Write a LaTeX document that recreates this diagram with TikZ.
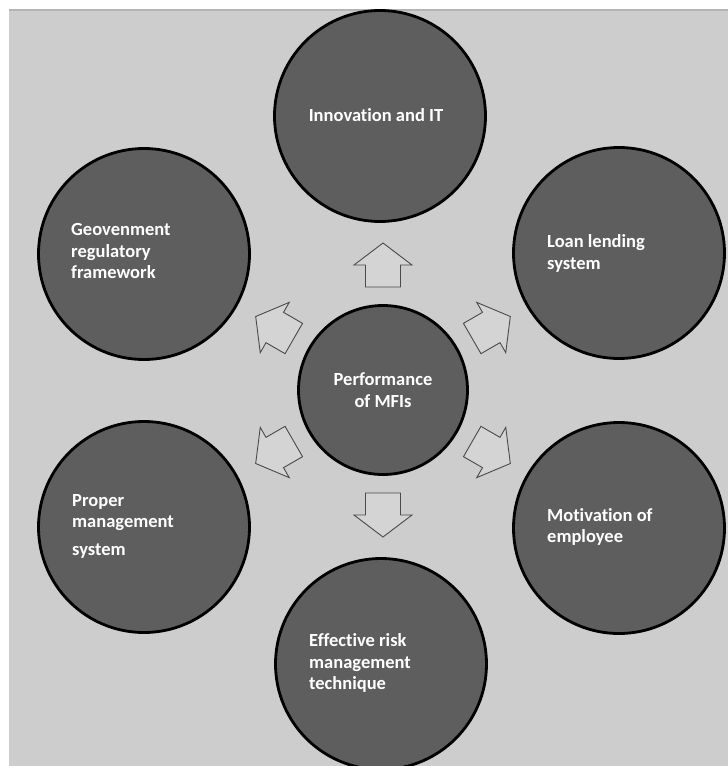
\documentclass[tikz,border=0pt]{standalone}
\usepackage{fontspec}
\setmainfont[Ligatures=NoCommon]{Carlito}
\usetikzlibrary{calc}
\definecolor{bggray}{HTML}{CDCDCD}
\definecolor{discgray}{HTML}{5E5E5E}
\definecolor{arrfill}{HTML}{D4D4D4}
\definecolor{arrline}{HTML}{4A4A4A}
\definecolor{edgegray}{HTML}{B4B4B4}
\begin{document}
\begin{tikzpicture}[x=1pt,y=1pt,
  disc/.style={circle, draw=black, line width=2.8pt, fill=discgray, minimum size=211pt, inner sep=0pt},
  hub/.style={circle, draw=black, line width=2.8pt, fill=discgray, minimum size=169pt, inner sep=0pt},
  lbl/.style={text=white, font=\bfseries\fontsize{18.5}{21.5}\selectfont, align=left, inner sep=0pt},
  clbl/.style={text=white, font=\bfseries\fontsize{18.5}{21.5}\selectfont, align=center, inner sep=0pt},
  barrow/.style={fill=arrfill, draw=arrline, line width=0.9pt, line join=miter}]
\useasboundingbox (0,0) rectangle (728,-766);
\fill[white] (0,0) rectangle (728,-766);
\clip (0,0) rectangle (728,-766);
\fill[bggray] (9,-10) rectangle (728,-766);
\draw[edgegray, line width=1.2pt] (9,-10) -- (728,-10);

% hub and outer discs
\node[hub]  (c)  at (383,-390) {};
\node[disc] (tp) at (380,-116) {};
\node[disc] (ul) at (144,-254) {};
\node[disc] (ur) at (619,-253) {};
\node[disc] (ll) at (144,-527) {};
\node[disc] (lr) at (619,-528) {};
\node[disc] (bt) at (381,-664) {};

% block arrows from the hub
\foreach \a in {30,90,150,210,270,330}{
  \begin{scope}[shift={(c.center)}, rotate=\a]
    \draw[barrow] (103,-17.5) -- (125,-17.5) -- (125,-29) -- (147,0)
      -- (125,29) -- (125,17.5) -- (103,17.5) -- cycle;
  \end{scope}
}

% labels
\node[clbl] (tc)  at (383,-390) {Performance\\of MFIs};
\node[clbl] (ttp) at (376,-115) {Innovation and IT};
\node[lbl, anchor=west] (tul) at (71,-251) {Geovenment\\regulatory\\framework};
\node[lbl, anchor=west] (tur) at (547,-253.5) {Loan lending\\system};
\node[lbl, anchor=west] (tll) at (72,-526) {Proper\\management\\[6pt]system};
\node[lbl, anchor=west] (tlr) at (547,-527) {Motivation of\\employee};
\node[lbl, anchor=west] (tbt) at (309,-663) {Effective risk\\management\\technique};
\end{tikzpicture}
\end{document}
